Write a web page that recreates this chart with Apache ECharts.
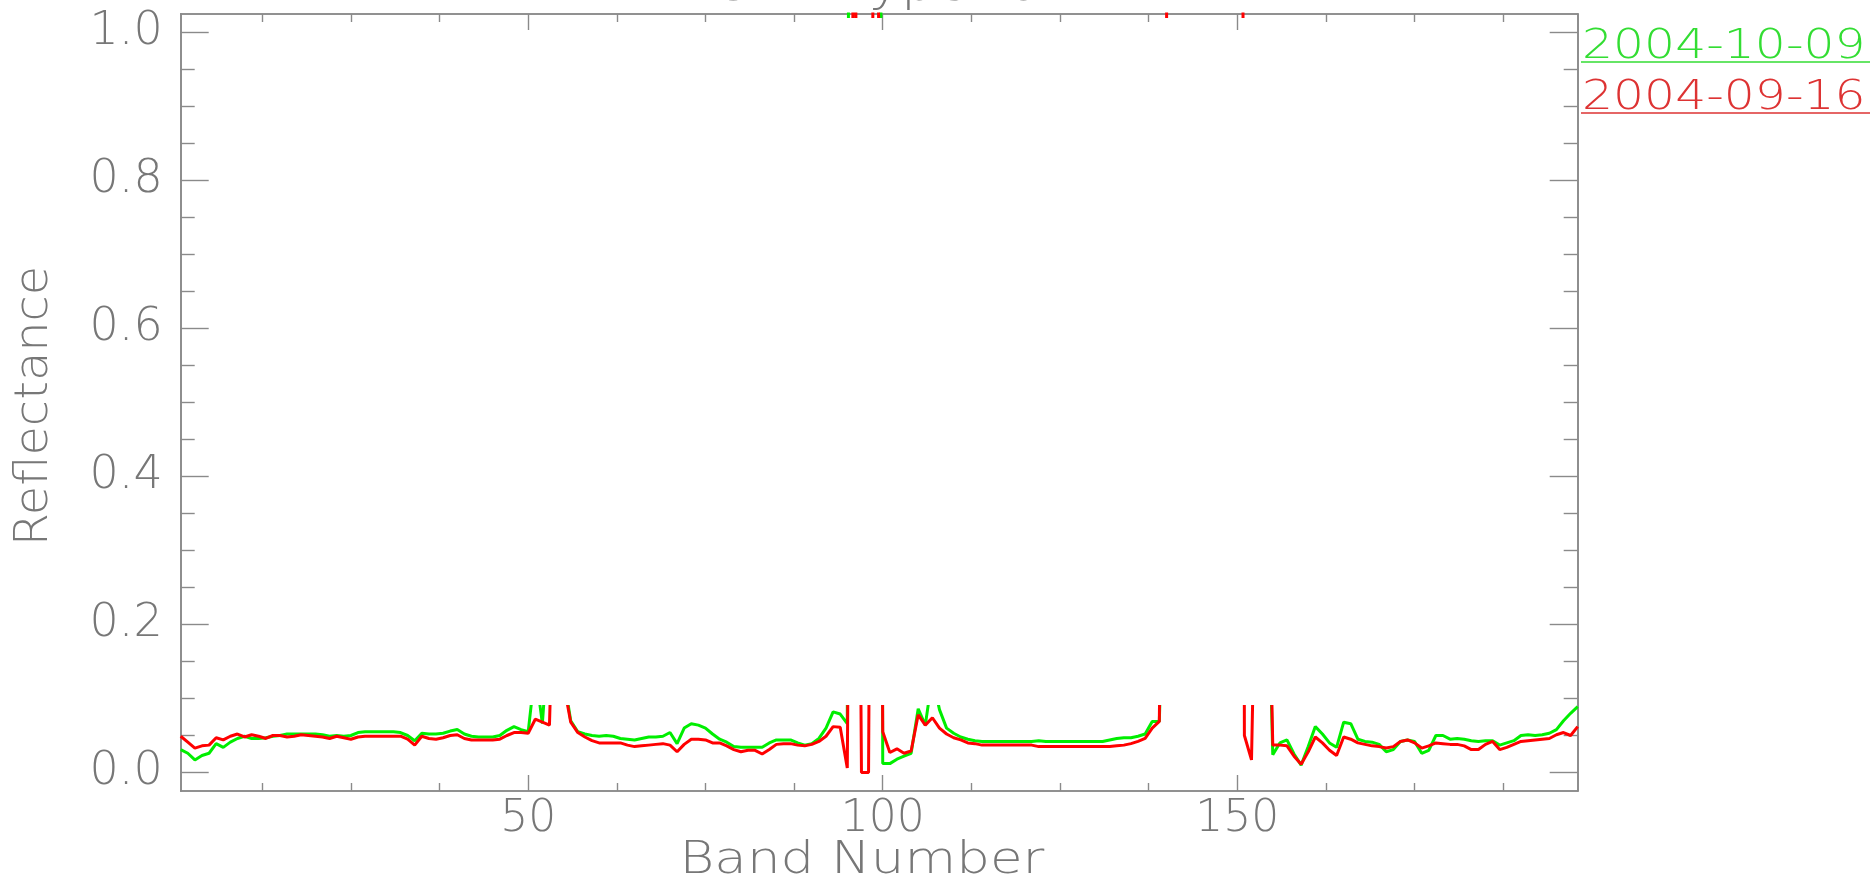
<!DOCTYPE html>
<html>
<head>
<meta charset="utf-8">
<script src="https://cdn.jsdelivr.net/npm/echarts@6/dist/echarts.min.js"></script>
<style>
  html, body { margin: 0; padding: 0; background: #ffffff; }
  #chart { width: 1874px; height: 887px; }
</style>
</head>
<body>
<div id="chart"></div>
<script>
// Texts
const titleText = 'EO-1 Hyperion';
const xAxisTitle = 'Band Number';
const yAxisTitle = 'Reflectance';
const seriesNames = ['2004-10-09', '2004-09-16'];

// Axis ranges and tick positions
const firstBand = 1;
const lastBand = 198;
const xMajorTicks = [50, 100, 150];
const xMinorTicks = [12.5, 25, 37.5, 62.5, 75, 87.5, 112.5, 125, 137.5, 162.5, 175, 187.5];
const yMajorTicks = [0.0, 0.2, 0.4, 0.6, 0.8, 1.0];
const yMinorTicks = [0.05, 0.1, 0.15, 0.25, 0.3, 0.35, 0.45, 0.5, 0.55, 0.65, 0.7, 0.75, 0.85, 0.9, 0.95];

// Reflectance per band (bands 1..198), 2004-10-09
const oct09 = [
  0.031, 0.026, 0.017, 0.023, 0.026, 0.039, 0.034, 0.041, 0.046, 0.049,
  0.046, 0.046, 0.047, 0.049, 0.050, 0.052, 0.052, 0.052, 0.052, 0.052,
  0.051, 0.049, 0.050, 0.049, 0.050, 0.054, 0.055, 0.055, 0.055, 0.055,
  0.055, 0.054, 0.050, 0.043, 0.053, 0.052, 0.052, 0.053, 0.056, 0.058,
  0.052, 0.049, 0.048, 0.048, 0.048, 0.050, 0.057, 0.062, 0.058, 0.055,
  0.140, 0.066, 0.200, 0.500, 0.130, 0.070, 0.055, 0.052, 0.050, 0.049,
  0.050, 0.049, 0.046, 0.045, 0.044, 0.046, 0.048, 0.048, 0.049, 0.054,
  0.039, 0.060, 0.066, 0.064, 0.060, 0.052, 0.045, 0.041, 0.035, 0.034,
  0.034, 0.034, 0.034, 0.040, 0.044, 0.044, 0.044, 0.040, 0.037, 0.039,
  0.046, 0.060, 0.082, 0.079, 0.066, 6.000, 6.000, 6.000, 4.000, 0.012,
  0.012, 0.018, 0.022, 0.026, 0.086, 0.064, 0.130, 0.085, 0.060, 0.053,
  0.048, 0.045, 0.043, 0.042, 0.042, 0.042, 0.042, 0.042, 0.042, 0.042,
  0.042, 0.043, 0.042, 0.042, 0.042, 0.042, 0.042, 0.042, 0.042, 0.042,
  0.042, 0.044, 0.046, 0.047, 0.047, 0.049, 0.052, 0.069, 0.069, 0.400,
  0.500, 0.500, 0.500, 0.500, 0.500, 0.500, 0.500, 0.500, 0.500, 0.500,
  0.500, 0.500, 0.500, 0.400, 0.024, 0.040, 0.044, 0.025, 0.010, 0.035,
  0.062, 0.052, 0.040, 0.034, 0.068, 0.066, 0.045, 0.042, 0.041, 0.038,
  0.028, 0.031, 0.042, 0.044, 0.042, 0.026, 0.030, 0.050, 0.050, 0.045,
  0.046, 0.045, 0.043, 0.042, 0.043, 0.043, 0.037, 0.040, 0.043, 0.050,
  0.051, 0.050, 0.051, 0.053, 0.058, 0.070, 0.080, 0.089
];

// Reflectance per band (bands 1..198), 2004-09-16
const sep16 = [
  0.049, 0.041, 0.033, 0.036, 0.037, 0.047, 0.044, 0.049, 0.052, 0.048,
  0.051, 0.049, 0.046, 0.050, 0.050, 0.048, 0.049, 0.051, 0.050, 0.049,
  0.048, 0.046, 0.049, 0.047, 0.045, 0.048, 0.049, 0.049, 0.049, 0.049,
  0.049, 0.049, 0.045, 0.037, 0.049, 0.046, 0.045, 0.047, 0.050, 0.051,
  0.046, 0.044, 0.044, 0.044, 0.044, 0.045, 0.050, 0.054, 0.054, 0.053,
  0.072, 0.068, 0.064, 0.400, 0.120, 0.068, 0.054, 0.048, 0.043, 0.040,
  0.040, 0.040, 0.040, 0.037, 0.035, 0.036, 0.037, 0.038, 0.039, 0.037,
  0.028, 0.038, 0.045, 0.045, 0.044, 0.040, 0.040, 0.036, 0.031, 0.028,
  0.030, 0.030, 0.025, 0.031, 0.038, 0.039, 0.039, 0.037, 0.036, 0.038,
  0.042, 0.049, 0.062, 0.061, 0.006, 1.300, 0.000, 0.000, 1.700, 0.055,
  0.027, 0.032, 0.026, 0.029, 0.078, 0.064, 0.074, 0.060, 0.052, 0.047,
  0.044, 0.040, 0.039, 0.037, 0.037, 0.037, 0.037, 0.037, 0.037, 0.037,
  0.037, 0.035, 0.035, 0.035, 0.035, 0.035, 0.035, 0.035, 0.035, 0.035,
  0.035, 0.035, 0.036, 0.037, 0.039, 0.042, 0.046, 0.060, 0.069, 0.900,
  5.000, 5.000, 5.000, 5.000, 5.000, 5.000, 5.000, 5.000, 5.000, 5.000,
  0.050, 0.017, 0.500, 0.500, 0.037, 0.037, 0.036, 0.022, 0.011, 0.028,
  0.048, 0.040, 0.030, 0.023, 0.048, 0.045, 0.040, 0.038, 0.036, 0.035,
  0.033, 0.035, 0.042, 0.044, 0.040, 0.033, 0.036, 0.040, 0.039, 0.038,
  0.038, 0.036, 0.031, 0.031, 0.038, 0.042, 0.031, 0.034, 0.038, 0.042,
  0.043, 0.044, 0.045, 0.046, 0.051, 0.054, 0.050, 0.062
];

// Styling
const lineColors = ['#00ee00', '#ff0000'];
const legendColors = ['#33dd33', '#dd3333'];
const frameColor = '#8a8a8a';
const textColor = '#777777';
const fontFamily = '"DejaVu Sans", "Liberation Sans", sans-serif';
const fontWeight = 200;

// Curves are shown between the floor and this level, plus a thin strip at the frame top
const lowWindowTop = 0.0912;
const topStripStart = 1.019;

const yMin = -0.025, yMax = 1.025;

const toPairs = (values) => values.map((v, i) => [firstBand + i, v]);

const chart = echarts.init(document.getElementById('chart'), null, { renderer: 'canvas' });

function xAxisDef(position, ticks, len, withLabels) {
  return {
    type: 'value', position: position, min: firstBand, max: lastBand,
    axisLine: { show: true, onZero: false, lineStyle: { color: frameColor, width: 1.6 } },
    axisTick: { show: true, inside: true, length: len, customValues: ticks,
                lineStyle: { color: frameColor, width: 1.4 } },
    axisLabel: withLabels ? {
      show: true, customValues: ticks, margin: 7, color: textColor,
      fontSize: 44, fontFamily: fontFamily, fontWeight: fontWeight,
      formatter: (v) => String(v)
    } : { show: false },
    splitLine: { show: false }
  };
}

function yAxisDef(position, ticks, len, withLabels) {
  return {
    type: 'value', position: position, min: yMin, max: yMax,
    axisLine: { show: true, onZero: false, lineStyle: { color: frameColor, width: 1.6 } },
    axisTick: { show: true, inside: true, length: len, customValues: ticks,
                lineStyle: { color: frameColor, width: 1.4 } },
    axisLabel: withLabels ? {
      show: true, customValues: ticks, margin: 18, color: textColor,
      fontSize: 46, fontFamily: fontFamily, fontWeight: fontWeight,
      formatter: (v) => v.toFixed(1)
    } : { show: false },
    splitLine: { show: false }
  };
}

function windowPieces(color) {
  return [
    { lt: lowWindowTop, color: color },
    { gte: lowWindowTop, lt: topStripStart, color: 'rgba(255,255,255,0)' },
    { gte: topStripStart, color: color }
  ];
}

// Wide, thin lettering: text is stretched horizontally with scaleX
function label(text, x, y, size, stretch, extra) {
  return Object.assign({
    type: 'text', x: x, y: y, scaleX: stretch, silent: true,
    style: {
      text: text, fill: textColor, fontSize: size, fontFamily: fontFamily, fontWeight: fontWeight,
      align: 'center', verticalAlign: 'middle', textAlign: 'center', textVerticalAlign: 'middle'
    }
  }, extra || {});
}

const legendMiddle = [47.2, 98.2];
const legendUnderline = [62, 113];

const option = {
  backgroundColor: '#ffffff',
  animation: false,
  grid: { left: 180.7, right: 296.3, top: 14, bottom: 96, containLabel: false },
  xAxis: [
    xAxisDef('bottom', xMajorTicks, 16, true),
    xAxisDef('bottom', xMinorTicks, 8, false),
    xAxisDef('top', xMajorTicks, 16, false),
    xAxisDef('top', xMinorTicks, 8, false)
  ],
  yAxis: [
    yAxisDef('left', yMajorTicks, 28, true),
    yAxisDef('left', yMinorTicks, 14, false),
    yAxisDef('right', yMajorTicks, 28, false),
    yAxisDef('right', yMinorTicks, 14, false)
  ],
  visualMap: [
    { type: 'piecewise', show: false, seriesIndex: 0, dimension: 1, pieces: windowPieces(lineColors[0]) },
    { type: 'piecewise', show: false, seriesIndex: 1, dimension: 1, pieces: windowPieces(lineColors[1]) }
  ],
  series: [
    {
      name: seriesNames[0], type: 'line', xAxisIndex: 0, yAxisIndex: 0,
      data: toPairs(oct09), showSymbol: false, symbol: 'none', clip: true,
      lineStyle: { width: 3 }, z: 2
    },
    {
      name: seriesNames[1], type: 'line', xAxisIndex: 0, yAxisIndex: 0,
      data: toPairs(sep16), showSymbol: false, symbol: 'none', clip: true,
      lineStyle: { width: 3 }, z: 3
    }
  ],
  graphic: [
    label(titleText, 876, -13, 50, 1.09),
    label(xAxisTitle, 862, 861, 45, 1.18),
    label(yAxisTitle, 35, 406, 46, 1.04, { rotation: Math.PI / 2 })
  ].concat(seriesNames.flatMap((name, i) => [
    {
      type: 'text', x: 1582, y: legendMiddle[i], scaleX: 1.22, silent: true,
      style: {
        text: name, fill: legendColors[i], fontSize: 40, fontFamily: fontFamily, fontWeight: fontWeight,
        align: 'left', verticalAlign: 'middle', textAlign: 'left', textVerticalAlign: 'middle'
      }
    },
    {
      type: 'line', silent: true,
      shape: { x1: 1581, y1: legendUnderline[i], x2: 1870, y2: legendUnderline[i] },
      style: { stroke: legendColors[i], lineWidth: 1.5 }
    }
  ]))
};

chart.setOption(option);
</script>
</body>
</html>
